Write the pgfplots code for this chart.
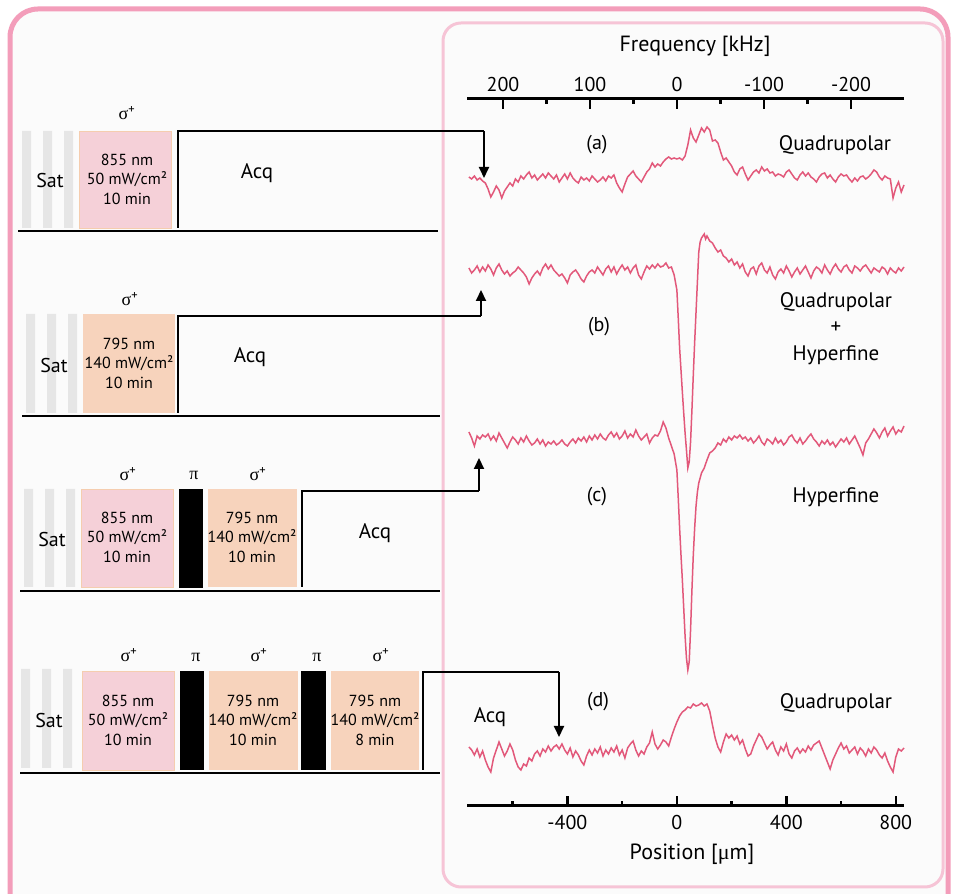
\documentclass[border=0pt]{standalone}
\usepackage{pgfplots}
\pgfplotsset{compat=1.18}
\usepackage{pgfplotstable}
\usepackage{fontspec}
\setmainfont{PT Sans}
\newfontfamily\grk{Liberation Serif}
\usetikzlibrary{arrows.meta}

\definecolor{tracecol}{RGB}{226,88,122}
\definecolor{framepink}{RGB}{243,157,186}
\definecolor{panelpink}{RGB}{246,196,214}
\definecolor{bgcol}{RGB}{251,251,251}
\definecolor{satgrey}{RGB}{230,230,230}
\definecolor{boxpink}{RGB}{245,208,216}
\definecolor{boxpeach}{RGB}{247,211,188}
\definecolor{boxedge}{RGB}{245,205,175}

% Trace (a): position [um], signal (px units, baseline 0)
\pgfplotstableread{
p s
-760 3
-750 1
-740 4
-730 0
-720 2
-710 -1
-700 -3
-690 -9
-680 -17
-670 -12
-660 -6
-650 -10
-640 -18
-630 -11
-620 -7
-610 -3
-600 -6
-590 1
-580 -2
-570 4
-560 1
-550 5
-540 8
-530 2
-520 5
-510 0
-500 3
-490 6
-480 2
-470 7
-460 4
-450 1
-440 5
-430 -2
-420 2
-410 6
-400 1
-390 7
-380 2
-370 -1
-360 -3
-350 3
-340 0
-330 2
-320 -1
-310 4
-300 1
-290 -2
-280 0
-270 3
-260 -1
-250 4
-240 2
-230 5
-220 -3
-210 -8
-200 -12
-190 -4
-180 3
-170 6
-160 9
-150 4
-140 1
-130 -2
-120 3
-110 8
-100 11
-90 17
-80 13
-70 16
-60 14
-50 18
-40 21
-30 23
-20 21
-10 22
0 21
10 22
20 20
30 24
40 35
50 50
60 42
70 38
80 45
90 52
100 48
110 53
120 50
130 39
140 40
150 37
160 28
170 20
180 22
190 18
200 14
210 8
220 5
230 11
240 13
250 6
260 0
270 4
280 8
290 10
300 7
310 13
320 9
330 11
340 7
350 8
360 4
370 6
380 5
390 3
400 8
410 10
420 6
430 2
440 0
450 5
460 8
470 4
480 7
490 3
500 1
510 -2
520 3
530 6
540 7
550 2
560 5
570 1
580 -2
590 3
600 6
610 4
620 5
630 1
640 -2
650 2
660 -1
670 3
680 4
690 1
700 3
710 6
720 10
730 8
740 3
750 0
760 4
770 2
780 1
790 -18
800 -8
810 -2
820 -12
830 -5
}\traceA

\pgfplotstableread{
p s
-760 2
-750 -3
-740 0
-730 4
-720 -2
-710 3
-700 -1
-690 5
-680 1
-670 -5
-660 2
-650 6
-640 0
-630 -4
-620 -1
-610 -6
-600 -3
-590 -1
-580 3
-570 0
-560 -3
-550 -7
-540 -14
-530 -8
-520 -4
-510 -1
-500 -5
-490 2
-480 6
-470 1
-460 5
-450 0
-440 -3
-430 -6
-420 -4
-410 -8
-400 -13
-390 -5
-380 -2
-370 0
-360 -4
-350 -9
-340 -12
-330 -6
-320 -2
-310 0
-300 -3
-290 3
-280 -1
-270 -5
-260 1
-250 4
-240 -2
-230 3
-220 -4
-210 1
-200 5
-190 0
-180 3
-170 -3
-160 2
-150 5
-140 -5
-130 -9
-120 -2
-110 4
-100 1
-90 5
-80 2
-70 6
-60 3
-50 4
-40 7
-30 2
-20 3
-10 -5
0 -20
5 -48
10 -78
15 -100
20 -122
25 -143
30 -163
35 -180
40 -198
45 -192
50 -172
55 -140
60 -105
65 -72
70 -42
75 -12
80 18
85 28
90 32
95 34
100 36
105 31
110 34
120 29
130 27
140 22
150 18
160 20
170 14
180 12
190 8
200 11
210 5
220 8
230 2
240 6
250 -2
260 -6
270 1
280 3
290 -4
300 4
310 7
320 0
330 -3
340 3
350 -5
360 -9
370 -2
380 1
390 -3
400 4
410 -1
420 -7
430 -2
440 2
450 -4
460 0
470 4
480 -2
490 -8
500 -1
510 3
520 1
530 -3
540 5
550 0
560 -4
570 2
580 6
590 1
600 -2
610 3
620 5
630 0
640 -3
650 4
660 2
670 -1
680 3
690 5
700 1
710 -3
720 2
730 0
740 -2
750 3
760 1
770 -4
780 2
790 -1
800 -3
810 2
820 -1
830 3
}\traceB

\pgfplotstableread{
p s
-760 8
-750 2
-740 -6
-730 4
-720 1
-710 5
-700 3
-690 6
-680 0
-670 4
-660 -1
-650 7
-640 2
-630 -3
-620 -8
-610 -2
-600 3
-590 0
-580 -4
-570 2
-560 -2
-550 4
-540 -1
-530 -5
-520 -3
-510 1
-500 -4
-490 0
-480 -6
-470 -2
-460 -4
-450 -1
-440 -5
-430 -3
-420 0
-410 -4
-400 -6
-390 -2
-380 1
-370 -3
-360 2
-350 -1
-340 3
-330 -2
-320 4
-310 0
-300 5
-290 1
-280 6
-270 2
-260 0
-250 5
-240 8
-230 3
-220 7
-210 1
-200 4
-190 9
-180 2
-170 6
-160 3
-150 10
-140 4
-130 0
-120 3
-110 6
-100 -3
-90 2
-80 5
-70 4
-60 9
-50 18
-40 12
-30 2
-20 -6
-10 -14
0 -30
5 -58
10 -88
15 -115
20 -140
25 -168
30 -196
35 -218
40 -230
45 -222
50 -190
55 -150
60 -115
65 -88
70 -66
75 -52
80 -43
90 -33
100 -28
110 -20
120 -13
130 -11
140 -8
150 -3
160 -5
170 1
180 -2
190 3
200 0
210 4
220 2
230 5
240 1
250 3
260 -1
270 2
280 -3
290 0
300 4
310 -2
320 -5
330 1
340 -1
350 -4
360 2
370 -3
380 0
390 -5
400 -2
410 3
420 5
430 0
440 -3
450 2
460 -4
470 -1
480 3
490 6
500 1
510 -2
520 -6
530 -1
540 -4
550 0
560 -5
570 -2
580 -7
590 -3
600 1
610 -2
620 2
630 -4
640 0
650 4
660 -2
670 -8
680 -15
690 -3
700 1
710 6
720 11
730 7
740 2
750 8
760 12
770 4
780 9
790 13
800 6
810 10
820 8
830 14
}\traceC

\pgfplotstableread{
p s
-760 5
-750 2
-740 -3
-730 3
-720 -5
-710 1
-700 -8
-690 -15
-680 -20
-670 -6
-660 2
-650 10
-640 3
-630 -4
-620 1
-610 8
-600 2
-590 -8
-580 -15
-570 -18
-560 -12
-550 -14
-540 -6
-530 -9
-520 -2
-510 1
-500 -4
-490 3
-480 0
-470 6
-460 1
-450 5
-440 7
-430 3
-420 8
-410 2
-400 -2
-390 4
-380 -5
-370 1
-360 -3
-350 -9
-340 -13
-330 -4
-320 2
-310 -3
-300 3
-290 -1
-280 5
-270 -4
-260 2
-250 -2
-240 4
-230 0
-220 6
-210 -3
-200 2
-190 -6
-180 4
-170 8
-160 11
-150 2
-140 -4
-130 1
-120 -2
-110 5
-100 9
-90 20
-80 8
-70 3
-60 7
-50 12
-40 10
-30 6
-20 15
-10 23
0 30
10 36
20 40
30 42
40 45
50 44
60 48
70 46
80 47
90 49
100 46
110 48
120 41
130 27
140 14
150 5
160 0
170 10
180 18
190 14
200 17
210 12
220 16
230 8
240 12
250 3
260 -4
270 -2
280 6
290 12
300 18
310 15
320 9
330 3
340 7
350 10
360 2
370 -3
380 5
390 1
400 8
410 -2
420 -6
430 1
440 4
450 -1
460 3
470 0
480 6
490 2
500 7
510 9
520 11
530 4
540 -3
550 -10
560 -17
570 -8
580 -2
590 4
600 9
610 3
620 6
630 -1
640 2
650 5
660 -2
670 4
680 1
690 -4
700 3
710 -1
720 5
730 2
740 -3
750 -6
760 -1
770 -9
780 -15
790 -20
800 -5
810 3
820 1
830 4
}\traceD

\begin{document}
\begin{tikzpicture}[x=1pt,y=1pt,
  boxtxt/.style={align=center, font=\fontsize{16}{19.5}\selectfont, inner sep=0pt},
  big/.style={font=\fontsize{21}{25}\selectfont, inner sep=0pt},
  sat/.style={font=\fontsize{20}{24}\selectfont, inner sep=0pt},
  pol/.style={font=\fontsize{18}{22}\selectfont, inner sep=0pt},
  acq/.style={line width=2pt, black},
  tip/.style={-{Triangle[width=10pt,length=11pt]}}]
\path[use as bounding box] (0pt,0pt) rectangle (954pt,894pt);
\clip (0pt,0pt) rectangle (954pt,894pt);

\begin{scope}[shift={(0pt,894pt)}, yscale=-1]
  \fill[white] (0,0) rectangle (954,894);
  \draw[framepink, line width=5pt, fill=bgcol, rounded corners=28pt] (10,9) rectangle (948,940);
  \draw[panelpink, line width=3pt, rounded corners=18pt] (443,23) rectangle (943,887);
\end{scope}

% ---- bottom axis (position) with the traces
\begin{axis}[at={(467pt,88pt)}, anchor=south west, scale only axis,
  width=437pt, height=707pt,
  xmin=-767, xmax=830, ymin=0, ymax=707,
  axis x line*=bottom, axis y line=none,
  axis line style={line width=3pt, -},
  tick align=inside,
  xtick={-400,0,400,800}, xticklabels={-400,0,400,800},
  minor xtick={-600,-200,200,600},
  major tick length=10pt, minor tick length=5pt,
  tick style={black, line width=2.5pt},
  xticklabel style={font=\fontsize{20}{24}\selectfont, yshift=-6pt},
  clip=false]
  \addplot[tracecol, line width=1.5pt] table[x=p, y expr=\thisrow{s}+626] {\traceA};
  \addplot[tracecol, line width=1.5pt] table[x=p, y expr=\thisrow{s}+536] {\traceB};
  \addplot[tracecol, line width=1.5pt] table[x=p, y expr=\thisrow{s}+366] {\traceC};
  \addplot[tracecol, line width=1.5pt] table[x=p, y expr=\thisrow{s}+54] {\traceD};
\end{axis}

% ---- top axis (frequency)
\begin{axis}[at={(467pt,88pt)}, anchor=south west, scale only axis,
  width=437pt, height=707pt,
  xmin=-260.9, xmax=241.4, x dir=reverse, ymin=0, ymax=707,
  axis x line*=top, axis y line=none,
  axis line style={line width=3pt, -},
  tick align=inside,
  xtick={-200,-100,0,100,200}, xticklabels={-200,-100,0,100,200},
  minor xtick={-150,-50,50,150},
  major tick length=10pt, minor tick length=5pt,
  tick style={black, line width=2.5pt},
  xticklabel style={font=\fontsize{20}{24}\selectfont, yshift=4pt}]
  \addplot[draw=none] coordinates {(0,0)};
\end{axis}

\begin{scope}[shift={(0pt,894pt)}, yscale=-1]
  % axis titles
  \node[font=\fontsize{22}{26}\selectfont] at (695,46) {Frequency [kHz]};
  \node[font=\fontsize{22}{26}\selectfont] at (692,854) {Position [{\grk μ}m]};

  % right panel labels
  \node[sat] at (597,145) {(a)};
  \node[big] at (835,145) {Quadrupolar};
  \node[sat] at (599,327) {(b)};
  \node[big] at (836,302) {Quadrupolar};
  \node[big] at (836,328) {+};
  \node[big] at (836,355) {Hyperfine};
  \node[sat] at (597,497) {(c)};
  \node[big] at (836,497) {Hyperfine};
  \node[sat] at (598,702) {(d)};
  \node[big] at (836,703) {Quadrupolar};

  % ---------- row 1
  \fill[satgrey] (22,131) rectangle (31,228) (43,131) rectangle (52,228) (64,131) rectangle (73,228);
  \node[sat] at (50,181) {Sat};
  \filldraw[fill=boxpink, draw=boxedge, line width=0.8pt] (79,131) rectangle (171,228);
  \node[boxtxt] at (127,179) {855 nm\\50 mW/cm²\\10 min};
  \node[pol] at (127,113) {{\grk σ}\textsuperscript{+}};
  \draw[acq] (178,228) -- (178,131) -- (484,131);
  \draw[acq, tip] (484,131) -- (484,178);
  \node[big] at (257,173) {Acq};
  \draw[line width=2pt] (18,231) -- (438,231);

  % ---------- row 2
  \fill[satgrey] (26,314) rectangle (35,413) (47,314) rectangle (56,413) (68,314) rectangle (77,413);
  \node[sat] at (54,366) {Sat};
  \fill[boxpeach] (83,314) rectangle (175,413);
  \node[boxtxt] at (129,363) {795 nm\\140 mW/cm²\\10 min};
  \node[pol] at (130,299) {{\grk σ}\textsuperscript{+}};
  \draw[acq] (178,413) -- (178,316) -- (481,316);
  \draw[acq, tip] (481,316) -- (481,290);
  \node[big] at (250,357) {Acq};
  \draw[line width=2pt] (22,416) -- (440,416);

  % ---------- row 3
  \fill[satgrey] (24,489) rectangle (33,587) (45,489) rectangle (54,587) (66,489) rectangle (75,587);
  \node[sat] at (52,540) {Sat};
  \filldraw[fill=boxpink, draw=boxedge, line width=0.8pt] (81,489) rectangle (173,587);
  \node[boxtxt] at (127,537) {855 nm\\50 mW/cm²\\10 min};
  \fill[black] (179,489) rectangle (203,588);
  \fill[boxpeach] (208,489) rectangle (297,587);
  \node[boxtxt] at (252,537) {795 nm\\140 mW/cm²\\10 min};
  \node[pol] at (128,474) {{\grk σ}\textsuperscript{+}};
  \node[pol] at (194,475) {{\grk π}};
  \node[pol] at (258,474) {{\grk σ}\textsuperscript{+}};
  \draw[acq] (302,587) -- (302,491) -- (479,491);
  \draw[acq, tip] (479,491) -- (479,458);
  \node[big] at (375,533) {Acq};
  \draw[line width=2pt] (20,591) -- (440,591);

  % ---------- row 4
  \fill[satgrey] (21,669) rectangle (30,768) (42,669) rectangle (51,768) (63,669) rectangle (72,768);
  \node[sat] at (49,721) {Sat};
  \filldraw[fill=boxpink, draw=boxedge, line width=0.8pt] (82,671) rectangle (174,770);
  \node[boxtxt] at (128,720) {855 nm\\50 mW/cm²\\10 min};
  \fill[black] (180,671) rectangle (204,770);
  \fill[boxpeach] (209,671) rectangle (298,770);
  \node[boxtxt] at (253,720) {795 nm\\140 mW/cm²\\10 min};
  \fill[black] (301,671) rectangle (326,770);
  \fill[boxpeach] (331,671) rectangle (419,770);
  \node[boxtxt] at (375,720) {795 nm\\140 mW/cm²\\8 min};
  \node[pol] at (129,655) {{\grk σ}\textsuperscript{+}};
  \node[pol] at (196,657) {{\grk π}};
  \node[pol] at (259,655) {{\grk σ}\textsuperscript{+}};
  \node[pol] at (317,657) {{\grk π}};
  \node[pol] at (381,655) {{\grk σ}\textsuperscript{+}};
  \draw[acq] (423,770) -- (423,672) -- (559,672);
  \draw[acq, tip] (559,672) -- (559,737);
  \node[big] at (490,717) {Acq};
  \draw[line width=2pt] (20,773) -- (440,773);
\end{scope}
\end{tikzpicture}
\end{document}
